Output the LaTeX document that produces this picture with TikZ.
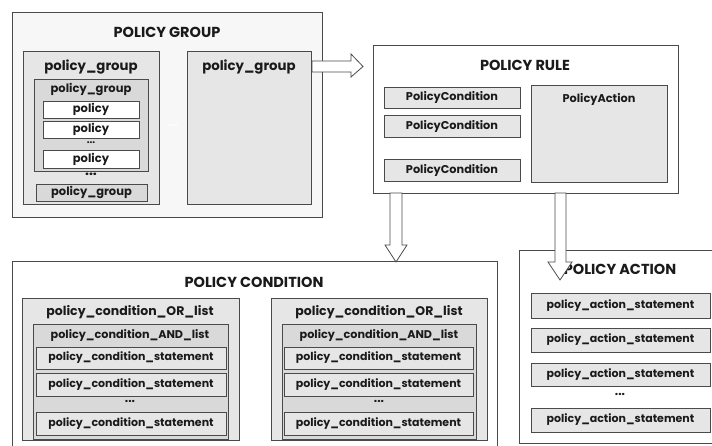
\documentclass[tikz,border=0pt]{standalone}
\usepackage{fontspec}
\setmainfont{Poppins}
\usetikzlibrary{calc}
\definecolor{bgA}{HTML}{F7F7F7}
\definecolor{bgB}{HTML}{E6E6E6}
\definecolor{bgC}{HTML}{D9D9D9}
\definecolor{edge}{HTML}{4A4A4A}
\definecolor{ink}{HTML}{1A1A1A}
\tikzset{
  box/.style={draw=edge, line width=0.9pt, anchor=north west, inner sep=0pt, outer sep=0pt},
  lbl/.style={font=\bfseries\fontsize{#1}{#1}\selectfont, inner sep=0pt, text=ink},
  blk/.style={draw=edge, fill=white, line width=0.8pt, line join=miter},
}
\newcommand{\mybox}[6]{%
  \node[box, fill=#2, minimum width={(#5-#3)*1pt}, minimum height={(#6-#4)*1pt}] (#1) at (#3,#4) {};}
\begin{document}
\begin{tikzpicture}[x=1pt,y=-1pt]
\useasboundingbox (0,0) rectangle (712,446);
% ---------------- POLICY GROUP
\mybox{G}{bgA}{12}{12}{322}{217}
\node[lbl=14.5] (Gt) at (167,32) {POLICY GROUP};
\mybox{G1}{bgB}{23}{51}{159}{204}
\node[lbl=13.3] (G1t) at (91,67) {policy\_group};
\mybox{G11}{bgC}{34}{79}{148}{171}
\node[lbl=11.5] (G11t) at (91,89) {policy\_group};
\mybox{P1}{white}{43}{101}{139}{118}
\node[lbl=11.5] (P1t) at (P1.center) {policy};
\mybox{P2}{white}{43}{121}{139}{138}
\node[lbl=11.5] (P2t) at (P2.center) {policy};
\node[lbl=10] (Pd) at (91,142.5) {...};
\mybox{P3}{white}{43}{150}{139}{168}
\node[lbl=11.5] (P3t) at (P3.center) {policy};
\node[lbl=14] (Gd) at (91,174.5) {...};
\mybox{G12}{bgC}{36}{184}{147}{201}
\node[lbl=11.5] (G12t) at (G12.center) {policy\_group};
\mybox{G2}{bgB}{187}{51}{311}{204}
\node[lbl=13.3] (G2t) at (249,67) {policy\_group};
\node[lbl=11, text=white] (Gw) at (173,126) {...};
% ---------------- POLICY RULE
\mybox{R}{white}{373}{45}{678}{193}
\node[lbl=14.5] (Rt) at (525,65) {POLICY RULE};
\mybox{C1}{bgB}{384}{87}{520}{108}
\node[lbl=11.3] (C1t) at (C1.center) {PolicyCondition};
\mybox{C2}{bgB}{384}{115}{520}{137}
\node[lbl=11.3] (C2t) at (C2.center) {PolicyCondition};
\mybox{C3}{bgB}{384}{159}{520}{181}
\node[lbl=11.3] (C3t) at (C3.center) {PolicyCondition};
\mybox{A}{bgB}{531}{85}{667}{182}
\node[lbl=11.3] (At) at (599,99) {PolicyAction};
% ---------------- POLICY CONDITION
\mybox{PC}{white}{12}{261}{497}{470}
\node[lbl=14.5] (PCt) at (254,282) {POLICY CONDITION};
\mybox{OR1}{bgB}{22}{298}{239}{440}
\node[lbl=12.5] (OR1t) at (130,312) {policy\_condition\_OR\_list};
\mybox{AND1}{bgC}{33}{324}{228}{439}
\node[lbl=11.2] (AND1t) at (130,336) {policy\_condition\_AND\_list};
\mybox{S11}{bgB}{36}{347}{226}{369}
\node[lbl=11] (S11t) at (S11.center) {policy\_condition\_statement};
\mybox{S12}{bgB}{36}{373}{226}{396}
\node[lbl=11] (S12t) at (S12.center) {policy\_condition\_statement};
\node[lbl=12] (S1d) at (130,401.5) {...};
\mybox{S13}{bgB}{36}{412}{226}{435}
\node[lbl=11] (S13t) at (S13.center) {policy\_condition\_statement};
\mybox{OR2}{bgB}{271}{298}{487}{440}
\node[lbl=12.5] (OR2t) at (379,312) {policy\_condition\_OR\_list};
\mybox{AND2}{bgC}{282}{324}{476}{439}
\node[lbl=11.2] (AND2t) at (379,336) {policy\_condition\_AND\_list};
\mybox{S21}{bgB}{284}{347}{473}{369}
\node[lbl=11] (S21t) at (S21.center) {policy\_condition\_statement};
\mybox{S22}{bgB}{284}{373}{473}{396}
\node[lbl=11] (S22t) at (S22.center) {policy\_condition\_statement};
\node[lbl=12] (S2d) at (379,401.5) {...};
\mybox{S23}{bgB}{284}{412}{473}{435}
\node[lbl=11] (S23t) at (S23.center) {policy\_condition\_statement};
% ---------------- POLICY ACTION
\mybox{PA}{white}{519}{250}{730}{443}
\node[lbl=14.5] (PAt) at (620,269) {POLICY ACTION};
\mybox{AS1}{bgB}{531}{293}{710}{318}
\node[lbl=11] (AS1t) at (AS1.center) {policy\_action\_statement};
\mybox{AS2}{bgB}{531}{328}{710}{352}
\node[lbl=11] (AS2t) at (AS2.center) {policy\_action\_statement};
\mybox{AS3}{bgB}{531}{363}{710}{386}
\node[lbl=11] (AS3t) at (AS3.center) {policy\_action\_statement};
\node[lbl=12] (ASd) at (620,394.5) {...};
\mybox{AS4}{bgB}{531}{408}{710}{432}
\node[lbl=11] (AS4t) at (AS4.center) {policy\_action\_statement};
% ---------------- block arrows
\draw[blk] ($(G2.north east)+(1,10)$) -- ++(39,0) -- ++(0,-7) -- ++(12,12.5)
  -- ++(-12,10.5) -- ++(0,-5) -- ++(-39,0) -- cycle;
\draw[blk] ($(R.south west)+(17,0)$) -- ++(0,52) -- ++(-5,0) -- ++(11,17)
  -- ++(11,-17) -- ++(-5,0) -- ++(0,-52) -- cycle;
\draw[blk] ($(R.south west)+(182,0)$) -- ++(0,69) -- ++(-7,0) -- ++(12,18)
  -- ++(12,-18) -- ++(-6,0) -- ++(0,-69) -- cycle;
\end{tikzpicture}
\end{document}
